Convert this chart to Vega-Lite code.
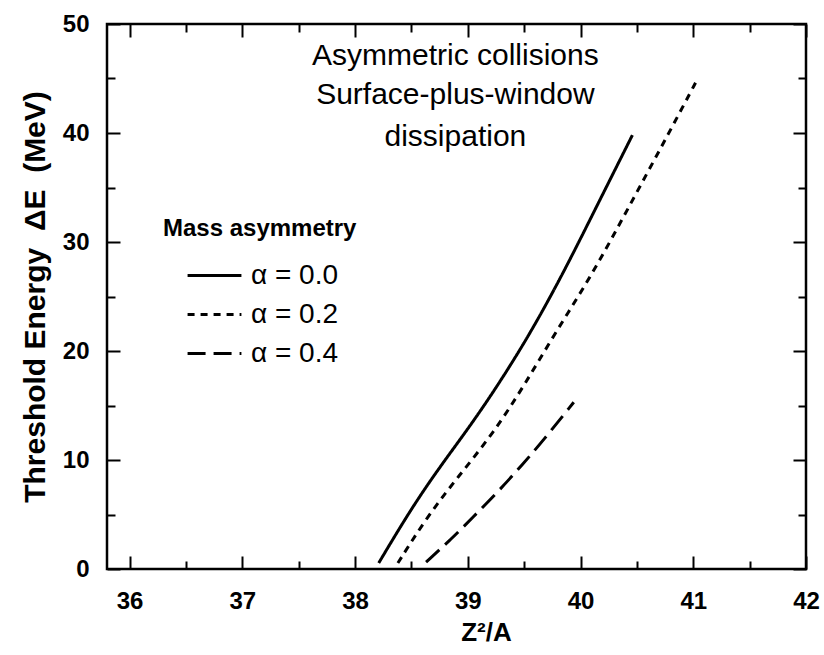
{
  "$schema": "https://vega.github.io/schema/vega-lite/v6.json",
  "width": 699,
  "height": 545,
  "autosize": {"type": "pad"},
  "padding": {"left": 20, "top": 12, "right": 5, "bottom": 5},
  "config": {
    "view": {"stroke": "black", "strokeWidth": 2.5},
    "font": "Liberation Sans, sans-serif",
    "axis": {
      "domain": false,
      "ticks": true,
      "tickColor": "black",
      "tickWidth": 2,
      "grid": false,
      "labelColor": "black",
      "titleColor": "black",
      "labelFont": "Liberation Sans, sans-serif",
      "titleFont": "Liberation Sans, sans-serif"
    }
  },
  "data": {
    "values": [
      {"alpha": "α = 0.0", "z2a": 38.21, "dE": 0.55},
      {"alpha": "α = 0.0", "z2a": 38.49, "dE": 5.4},
      {"alpha": "α = 0.0", "z2a": 38.74, "dE": 9.2},
      {"alpha": "α = 0.0", "z2a": 39.02, "dE": 13.1},
      {"alpha": "α = 0.0", "z2a": 39.27, "dE": 16.9},
      {"alpha": "α = 0.0", "z2a": 39.56, "dE": 21.7},
      {"alpha": "α = 0.0", "z2a": 39.86, "dE": 27.4},
      {"alpha": "α = 0.0", "z2a": 40.13, "dE": 33.0},
      {"alpha": "α = 0.0", "z2a": 40.46, "dE": 39.8},
      {"alpha": "α = 0.2", "z2a": 38.38, "dE": 0.55},
      {"alpha": "α = 0.2", "z2a": 38.64, "dE": 4.8},
      {"alpha": "α = 0.2", "z2a": 38.91, "dE": 8.4},
      {"alpha": "α = 0.2", "z2a": 39.23, "dE": 12.5},
      {"alpha": "α = 0.2", "z2a": 39.51, "dE": 17.0},
      {"alpha": "α = 0.2", "z2a": 39.79, "dE": 21.9},
      {"alpha": "α = 0.2", "z2a": 40.09, "dE": 26.8},
      {"alpha": "α = 0.2", "z2a": 40.35, "dE": 31.7},
      {"alpha": "α = 0.2", "z2a": 40.59, "dE": 36.3},
      {"alpha": "α = 0.2", "z2a": 40.81, "dE": 40.5},
      {"alpha": "α = 0.2", "z2a": 41.04, "dE": 45.0},
      {"alpha": "α = 0.4", "z2a": 38.63, "dE": 0.64},
      {"alpha": "α = 0.4", "z2a": 38.85, "dE": 2.7},
      {"alpha": "α = 0.4", "z2a": 39.05, "dE": 4.8},
      {"alpha": "α = 0.4", "z2a": 39.26, "dE": 7.0},
      {"alpha": "α = 0.4", "z2a": 39.47, "dE": 9.4},
      {"alpha": "α = 0.4", "z2a": 39.67, "dE": 11.8},
      {"alpha": "α = 0.4", "z2a": 39.94, "dE": 15.3}
    ]
  },
  "layer": [
    {
      "mark": {"type": "line", "strokeWidth": 3, "color": "black", "interpolate": "basis", "clip": true},
      "encoding": {
        "x": {
          "field": "z2a", "type": "quantitative",
          "scale": {"domain": [35.8, 42], "nice": false, "zero": false},
          "axis": {
            "orient": "bottom",
            "title": "Z²/A",
            "titleFontSize": 26,
            "titleFontWeight": "bold",
            "titleX": 379,
            "titlePadding": 6,
            "values": [36, 37, 38, 39, 40, 41, 42],
            "format": "d",
            "labelFontSize": 24,
            "labelFontWeight": "bold",
            "labelPadding": 20,
            "labelFlush": false,
            "offset": -13,
            "tickSize": 13
          }
        },
        "y": {
          "field": "dE", "type": "quantitative",
          "scale": {"domain": [0, 50], "nice": false},
          "axis": {
            "orient": "left",
            "title": "Threshold Energy\u00a0\u00a0ΔE\u00a0\u00a0(MeV)",
            "titleFontSize": 30,
            "titleFontWeight": "bold",
            "titlePadding": 12,
            "values": [0, 10, 20, 30, 40, 50],
            "labelFontSize": 24,
            "labelFontWeight": "bold",
            "labelPadding": 18,
            "labelFlush": false,
            "offset": -13,
            "tickSize": 13
          }
        },
        "strokeDash": {
          "field": "alpha", "type": "nominal",
          "scale": {"domain": ["α = 0.0", "α = 0.2", "α = 0.4"], "range": [[1, 0], [7, 6], [18, 8]]},
          "legend": {
            "orient": "none",
            "legendX": 56,
            "legendY": 193,
            "title": "Mass asymmetry",
            "titleFontSize": 24,
            "titleFontWeight": "bold",
            "titleColor": "black",
            "titleLimit": 400,
            "titlePadding": 20,
            "labelFontSize": 28,
            "labelColor": "black",
            "labelLimit": 300,
            "labelOffset": 8,
            "symbolType": "stroke",
            "symbolStrokeWidth": 3,
            "symbolStrokeColor": "black",
            "symbolSize": 2900,
            "symbolOffset": 23,
            "clipHeight": 29,
            "rowPadding": 10
          }
        }
      }
    },
    {
      "data": {
        "values": [
          {"tx": 38.89, "ty": 47.1, "label": "Asymmetric collisions"},
          {"tx": 38.89, "ty": 43.5, "label": "Surface-plus-window"},
          {"tx": 38.89, "ty": 39.6, "label": "dissipation"}
        ]
      },
      "mark": {"type": "text", "fontSize": 30, "color": "black", "align": "center", "baseline": "middle"},
      "encoding": {
        "x": {
          "field": "tx", "type": "quantitative",
          "axis": {"orient": "top", "title": null, "labels": false, "values": [36, 37, 38, 39, 40, 41, 42], "offset": -13, "tickSize": 13}
        },
        "y": {
          "field": "ty", "type": "quantitative",
          "axis": {"orient": "right", "title": null, "labels": false, "values": [0, 10, 20, 30, 40, 50], "offset": -13, "tickSize": 13}
        },
        "text": {"field": "label", "type": "nominal"}
      }
    },
    {
      "data": {"values": [{"mx": 36.5, "my": 5, "blank": ""}]},
      "mark": {"type": "text"},
      "encoding": {
        "x": {
          "field": "mx", "type": "quantitative",
          "axis": {"orient": "bottom", "title": null, "labels": false, "values": [36.5, 37.5, 38.5, 39.5, 40.5, 41.5], "offset": -8, "tickSize": 8}
        },
        "y": {
          "field": "my", "type": "quantitative",
          "axis": {"orient": "left", "title": null, "labels": false, "values": [5, 15, 25, 35, 45], "offset": -8, "tickSize": 8}
        },
        "text": {"field": "blank", "type": "nominal"}
      }
    },
    {
      "data": {"values": [{"mx": 36.5, "my": 5, "blank": ""}]},
      "mark": {"type": "text"},
      "encoding": {
        "x": {
          "field": "mx", "type": "quantitative",
          "axis": {"orient": "top", "title": null, "labels": false, "values": [36.5, 37.5, 38.5, 39.5, 40.5, 41.5], "offset": -8, "tickSize": 8}
        },
        "y": {
          "field": "my", "type": "quantitative",
          "axis": {"orient": "right", "title": null, "labels": false, "values": [5, 15, 25, 35, 45], "offset": -8, "tickSize": 8}
        },
        "text": {"field": "blank", "type": "nominal"}
      }
    }
  ],
  "resolve": {"axis": {"x": "independent", "y": "independent"}}
}
